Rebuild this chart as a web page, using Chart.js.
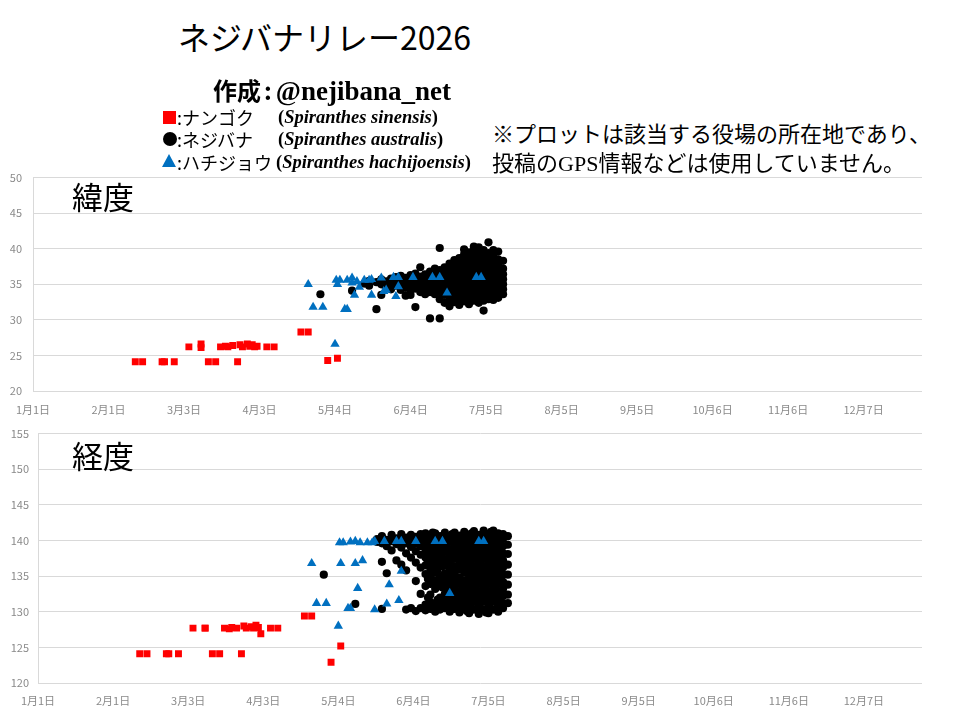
<!DOCTYPE html>
<html lang="ja">
<head>
<meta charset="utf-8">
<title>ネジバナリレー2026</title>
<script src="https://cdn.jsdelivr.net/npm/chart.js@4.4.1/dist/chart.umd.min.js"></script>
<style>
	body { margin: 0; width: 960px; height: 720px; position: relative; overflow: hidden; background: #fff; font-family: "Noto Sans CJK JP", sans-serif; color: #000; }
	.txt { position: absolute; white-space: nowrap; line-height: 1; }
	.serif { font-family: "Liberation Serif", serif; font-weight: bold; }
	.serif i { font-style: italic; }
	canvas { position: absolute; left: 0; }
	.mark { position: absolute; }
	.sq { width: 13px; height: 13px; background: #ff0000; }
	.ci { width: 14px; height: 14px; border-radius: 50%; background: #000; }
	.tr { width: 0; height: 0; border-left: 7.5px solid transparent; border-right: 7.5px solid transparent; border-bottom: 13px solid #0070c0; }
</style>
</head>
<body>
<canvas id="lat-chart" width="960" height="260" style="top:160px;"></canvas>
<canvas id="lon-chart" width="960" height="302" style="top:418px;"></canvas>

<div class="txt" style="left:178px; top:20px; font-size:32px;">ネジバナリレー2026</div>
<div class="txt" style="left:213px; top:78px; font-size:24px; font-weight:bold;">作成<span style="margin-left:3px;">:</span><span class="serif" style="font-size:27px; margin-left:4px;">@nejibana_net</span></div>

<div class="mark sq" style="left:163px; top:111px;"></div>
<div class="txt" style="left:177px; top:108px; font-size:18px;">:ナンゴク</div>
<div class="txt serif" style="left:278px; top:108px; font-size:18.5px;">(<i>Spiranthes sinensis</i>)</div>

<div class="mark ci" style="left:163px; top:132px;"></div>
<div class="txt" style="left:177px; top:130px; font-size:18px;">:ネジバナ</div>
<div class="txt serif" style="left:278px; top:130px; font-size:18.5px;">(<i>Spiranthes australis</i>)</div>

<div class="mark tr" style="left:162px; top:154px;"></div>
<div class="txt" style="left:177px; top:153px; font-size:18px;">:ハチジョウ</div>
<div class="txt serif" style="left:276px; top:153px; font-size:18.5px;">(<i>Spiranthes hachijoensis</i>)</div>

<div class="txt" style="left:492px; top:121px; font-size:22px;">※プロットは該当する役場の所在地であり、</div>
<div class="txt" style="left:492px; top:150px; font-size:22px;">投稿の<span style="font-family:'Liberation Serif',serif;">GPS</span>情報などは使用していません。</div>

<div class="txt" style="left:72px; top:180px; font-size:31px;">緯度</div>
<div class="txt" style="left:72px; top:439px; font-size:31px;">経度</div>

<script>
// x axis = days counted from 1月1日 (ticks every 31 days, leap-year calendar)
const tickDays = [0, 31, 62, 93, 124, 155, 186, 217, 248, 279, 310, 341];
const tickLabels = ["1月1日", "2月1日", "3月3日", "4月3日", "5月4日", "6月4日", "7月5日", "8月5日", "9月5日", "10月6日", "11月6日", "12月7日"];

// ナンゴク (Spiranthes sinensis)
const nangokuDays = [42, 45, 53, 54, 58, 64, 69, 69, 72, 75, 77, 79, 80, 82, 84, 85, 86, 88, 89, 90, 91, 92, 96, 99, 110, 113, 121, 125];
const nangokuLat = [24.1, 24.1, 24.1, 24.1, 24.1, 26.2, 26.6, 26.1, 24.1, 24.1, 26.2, 26.3, 26.2, 26.4, 24.1, 26.5, 26.2, 26.6, 26.3, 26.5, 26.2, 26.3, 26.2, 26.2, 28.3, 28.3, 24.3, 24.6];
const nangokuLon = [124.1, 124.1, 124.1, 124.1, 124.1, 127.7, 127.7, 127.7, 124.1, 124.1, 127.7, 127.6, 127.8, 127.7, 124.1, 128.0, 127.7, 127.9, 127.7, 128.1, 127.8, 126.9, 127.7, 127.7, 129.4, 129.4, 122.9, 125.2];

// ハチジョウ (Spiranthes hachijoensis)
const hachijoDays = [113, 115, 119, 124, 124.5, 125, 126, 128, 129, 129, 131, 131, 132, 133, 134, 136, 138, 139, 139, 143, 144, 145, 148, 149, 150, 150, 156, 164, 167, 170, 182, 184];
const hachijoLat = [35.0, 31.8, 31.8, 26.6, 35.6, 35.0, 35.6, 31.5, 31.5, 35.6, 35.9, 35.2, 33.5, 35.4, 34.6, 35.6, 35.6, 33.5, 35.7, 35.9, 34.0, 34.2, 36.0, 33.3, 34.7, 36.0, 36.0, 36.0, 36.0, 33.8, 36.0, 36.0];
const hachijoLon = [136.8, 131.2, 131.2, 128.0, 139.7, 136.8, 139.7, 130.5, 130.5, 139.8, 139.9, 136.8, 133.3, 139.7, 137.2, 139.7, 139.7, 130.3, 139.9, 139.9, 131.1, 133.8, 139.9, 131.6, 135.7, 139.9, 139.9, 139.9, 139.9, 132.6, 139.9, 139.9];

// ネジバナ (Spiranthes australis), read column by column: [day, values]
const nejibanaLatCols = [
	[118, [33.6]],
	[131, [34.1]],
	[136, [35.1]],
	[138, [34.8, 35.5]],
	[141, [35.3, 31.5]],
	[143, [35.0, 35.7, 33.5]],
	[145, [35.4, 34.6]],
	[147, [35.8, 35.1, 34.3]],
	[149, [35.3, 34.8, 36.0]],
	[151, [35.6, 34.9, 34.2, 36.2]],
	[153, [35.2, 35.9, 34.5, 33.4]],
	[155, [35.5, 34.8, 36.3, 34.1, 33.5]],
	[157, [35.1, 35.8, 34.4, 36.5, 34.8, 31.8]],
	[159, [35.4, 34.7, 36.1, 33.9, 37.4]],
	[161, [35.0, 35.7, 34.3, 36.4, 33.6]],
	[163, [35.3, 34.6, 36.0, 33.9, 36.8, 30.2]],
	[165, [35.1, 35.8, 34.4, 36.5, 33.6, 37.2]],
	[167, [35.4, 34.7, 36.1, 33.9, 37.0, 32.9, 40.1, 30.2]],
	[169, [35.0, 35.7, 34.3, 36.4, 33.5, 37.4, 32.4]],
	[171, [35.3, 34.6, 36.0, 33.8, 36.9, 32.8, 37.9, 31.9]],
	[173, [35.1, 35.8, 34.4, 36.6, 33.4, 37.5, 32.5, 38.4]],
	[175, [35.4, 34.7, 36.2, 33.7, 37.0, 32.9, 37.9, 38.7, 32.1]],
	[177, [35.0, 35.7, 34.3, 36.5, 33.4, 37.3, 32.6, 38.2, 39.2, 39.9]],
	[179, [35.3, 34.6, 36.1, 33.8, 36.9, 32.9, 37.7, 38.6, 39.5, 32.2]],
	[181, [35.1, 35.8, 34.4, 36.5, 33.5, 37.3, 32.7, 38.1, 39.0, 39.8, 40.3]],
	[183, [35.4, 34.7, 36.2, 33.8, 37.0, 33.0, 37.8, 38.6, 39.4, 40.2, 32.4]],
	[185, [35.0, 35.7, 34.3, 36.6, 33.5, 37.4, 32.7, 38.2, 39.0, 39.8, 31.3]],
	[187, [35.3, 34.6, 36.1, 33.8, 37.0, 32.9, 37.8, 38.6, 39.4, 40.9]],
	[189, [35.1, 35.8, 34.4, 36.5, 33.4, 37.3, 32.8, 38.1, 39.0, 39.8]],
	[191, [35.4, 34.7, 36.2, 33.7, 37.0, 33.1, 37.8, 38.5, 39.6]],
	[193, [35.0, 35.7, 34.3, 36.4, 33.6, 37.2, 38.3]],
];

const nejibanaLonCols = [
	[118, [135.2]],
	[131, [131.1]],
	[140, [140.2, 139.8]],
	[142, [140.6, 139.6, 137.0, 130.4]],
	[144, [140.1, 139.2, 135.4]],
	[146, [140.8, 139.9, 138.6]],
	[148, [140.3, 139.5, 137.2]],
	[150, [140.9, 140.1, 139.0, 136.6]],
	[152, [140.4, 139.6, 138.2, 135.8, 130.3]],
	[154, [140.8, 140.0, 139.1, 137.6, 130.5]],
	[156, [140.5, 139.6, 138.5, 136.9, 134.3, 130.1]],
	[158, [140.9, 140.0, 139.2, 138.0, 136.2, 132.5, 130.5]],
	[160, [141.0, 140.2, 139.3, 138.5, 137.6, 136.5, 135.3, 133.6, 131.0, 130.2]],
	[161, [140.4, 139.0, 137.1, 134.6, 132.0]],
	[162, [140.7, 139.7, 138.8, 137.9, 136.9, 135.8, 134.9, 133.9, 132.4, 131.4, 130.4]],
	[163, [141.1, 138.4, 136.4, 134.4, 130.9]],
	[164, [141.0, 140.1, 139.3, 138.3, 137.3, 136.4, 135.5, 134.4, 133.2, 130.8, 130.0]],
	[165, [139.7, 137.8, 135.9, 133.8, 131.7]],
	[166, [140.6, 139.6, 138.8, 137.7, 136.9, 135.0, 134.1, 132.0, 131.0, 130.3]],
	[167, [140.3, 138.3, 136.4, 133.4, 130.6]],
	[168, [141.1, 140.2, 139.3, 138.4, 137.4, 136.5, 135.4, 134.4, 133.4, 132.5, 131.5, 130.5]],
	[169, [139.8, 137.0, 134.9, 133.0, 130.9]],
	[170, [140.6, 139.8, 138.8, 137.9, 136.9, 135.9, 134.9, 133.9, 132.9, 131.9, 130.9, 130.0]],
	[171, [140.9, 138.4, 136.4, 134.4, 132.4, 130.4]],
	[172, [141.1, 140.2, 139.3, 138.4, 137.4, 136.3, 135.4, 134.4, 133.4, 132.4, 131.4, 130.4]],
	[173, [139.8, 138.0, 136.0, 134.0, 131.9]],
	[174, [140.7, 139.7, 138.9, 137.9, 136.9, 135.9, 134.8, 133.9, 132.9, 131.9, 130.9, 129.9]],
	[175, [140.3, 138.4, 136.4, 134.4, 132.4, 130.5]],
	[176, [141.2, 140.3, 139.4, 138.4, 137.4, 136.4, 135.5, 134.4, 133.4, 132.4, 131.4, 130.4]],
	[177, [139.9, 137.9, 135.9, 133.9, 132.0, 130.1]],
	[178, [140.7, 139.8, 138.9, 137.9, 136.9, 135.9, 134.9, 133.9, 132.9, 131.9, 130.9, 129.8]],
	[179, [141.0, 138.4, 136.4, 134.4, 132.4, 130.5]],
	[180, [141.3, 140.3, 139.4, 138.4, 137.4, 136.4, 135.4, 134.4, 133.4, 132.4, 131.4, 130.3]],
	[181, [139.9, 137.9, 136.0, 134.0, 131.9]],
	[182, [140.8, 139.9, 138.9, 137.9, 136.9, 135.9, 134.9, 133.9, 132.9, 131.9, 130.9, 129.7]],
	[183, [140.4, 138.4, 136.4, 134.4, 132.4, 130.4]],
	[184, [141.4, 140.4, 139.4, 138.4, 137.4, 136.4, 135.4, 134.4, 133.4, 132.4, 131.4, 130.3]],
	[185, [139.9, 137.9, 135.9, 133.9, 131.9, 129.9]],
	[186, [140.9, 139.9, 138.9, 137.9, 136.9, 135.9, 134.9, 133.9, 132.9, 131.9, 130.9, 129.8]],
	[187, [141.2, 138.4, 136.4, 134.4, 132.4, 130.4]],
	[188, [141.4, 140.4, 139.4, 138.4, 137.4, 136.4, 135.4, 134.4, 133.4, 132.4, 131.4, 130.3]],
	[189, [139.9, 137.9, 135.9, 133.9, 131.9]],
	[190, [141.0, 139.9, 138.9, 137.9, 136.9, 135.9, 134.9, 133.9, 132.9, 131.9, 130.9, 130.0]],
	[191, [140.5, 138.4, 136.4, 134.4, 132.4, 130.6]],
	[192, [140.9, 140.2, 139.2, 138.2, 137.2, 136.2, 135.2, 134.2, 133.2, 132.2, 131.2, 130.5]],
	[194, [140.6, 139.4, 138.1, 136.6, 135.2, 133.8, 132.4, 131.2]],
];

Chart.defaults.font.family = "'Noto Sans CJK JP', sans-serif";
Chart.defaults.animation = false;

const pairUp = (days, values) => days.map((d, i) => ({ x: d, y: values[i] }));
const flattenCols = (cols) => cols.flatMap(([d, values]) => values.map((v) => ({ x: d, y: v })));

// blue first so it is painted on top of the black dots
function buildDatasets(blue, red, black) {
	return [
		{ label: "ハチジョウ", data: blue, pointStyle: "triangle", pointRadius: 5.4, backgroundColor: "#0070c0", borderWidth: 0 },
		{ label: "ナンゴク", data: red, pointStyle: "rect", pointRadius: 4.9, backgroundColor: "#ff0000", borderWidth: 0 },
		{ label: "ネジバナ", data: black, pointStyle: "circle", pointRadius: 4.1, backgroundColor: "#000000", borderWidth: 0 },
	];
}

// chart area ends up ~17px below the canvas top; canvases are placed for that
function makeChart(id, datasets, yMin, yMax, axisWidth, yPad, xHeight, xPad) {
	const gridColor = "#d9d9d9";
	const tickColor = "#8a8a8a";
	return new Chart(document.getElementById(id), {
		type: "scatter",
		data: { datasets: datasets },
		options: {
			responsive: false,
			events: [],
			layout: { padding: { top: 0, right: 38, bottom: 0, left: 0 } },
			plugins: { legend: { display: false }, tooltip: { enabled: false } },
			scales: {
				x: {
					type: "linear",
					min: 0,
					max: 365,
					grid: { display: false, drawTicks: false },
					border: { display: false },
					afterBuildTicks: (axis) => {
						axis.ticks = tickDays.map((v) => ({ value: v }));
					},
					afterFit: (axis) => {
						axis.height = xHeight;
					},
					ticks: {
						autoSkip: false,
						maxRotation: 0,
						padding: xPad,
						color: tickColor,
						font: { size: 11 },
						callback: (value) => tickLabels[tickDays.indexOf(value)],
					},
				},
				y: {
					min: yMin,
					max: yMax,
					grid: { color: gridColor, drawTicks: false },
					border: { display: true, color: gridColor },
					afterFit: (axis) => {
						axis.width = axisWidth;
					},
					ticks: { stepSize: 5, padding: yPad, color: tickColor, font: { size: 11 } },
				},
			},
		},
	});
}

makeChart(
	"lat-chart",
	buildDatasets(pairUp(hachijoDays, hachijoLat), pairUp(nangokuDays, nangokuLat), flattenCols(nejibanaLatCols)),
	20, 50, 33, 11, 29, 12
);

makeChart(
	"lon-chart",
	buildDatasets(pairUp(hachijoDays, hachijoLon), pairUp(nangokuDays, nangokuLon), flattenCols(nejibanaLonCols)),
	120, 155, 38, 9, 37, 11
);
</script>
</body>
</html>
